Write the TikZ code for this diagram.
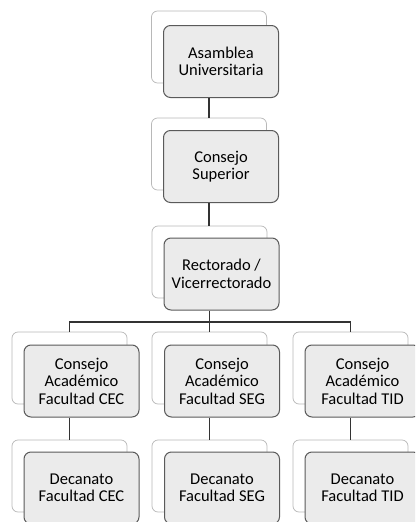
\documentclass[tikz,border=0pt]{standalone}
\usepackage{fontspec}
\setmainfont{Carlito}
\definecolor{backline}{HTML}{B8B8B8}
\definecolor{frontline}{HTML}{5A5A5A}
\definecolor{frontfill}{HTML}{EBEBEB}
\definecolor{conn}{HTML}{333333}
\begin{document}
\begin{tikzpicture}[x=1pt,y=-1pt,
  backbox/.style={draw=backline, line width=0.7pt, fill=white, rounded corners=6pt,
    minimum width=115pt, minimum height=72pt, inner sep=0pt},
  frontbox/.style={draw=frontline, line width=1pt, fill=frontfill, rounded corners=7pt,
    minimum width=115pt, minimum height=72pt, inner sep=0pt, align=center,
    font=\fontsize{16.5}{17.5}\selectfont},
  connector/.style={draw=conn, line width=1.1pt}]
\useasboundingbox (0,0) rectangle (415,522);
\clip (0,0) rectangle (415,522);
% row 1
\node[backbox] (b1) at (209,47) {};
\node[frontbox] (f1) at (221,61.5) {Asamblea\\Universitaria};
% row 2
\node[backbox] (b2) at (209,154) {};
\node[frontbox] (f2) at (221,166.5) {Consejo\\Superior};
% row 3
\node[backbox] (b3) at (209.5,262) {};
\node[frontbox] (f3) at (221.5,274) {Rectorado /\\Vicerrectorado};
% row 4
\node[backbox] (b4) at (69.5,368) {};
\node[frontbox] (f4) at (81.5,381) {Consejo\\Académico\\Facultad CEC};
\node[backbox] (b5) at (209.5,368) {};
\node[frontbox] (f5) at (222,381) {Consejo\\Académico\\Facultad SEG};
\node[backbox] (b6) at (350.5,368) {};
\node[frontbox] (f6) at (362.5,381) {Consejo\\Académico\\Facultad TID};
% row 5
\node[backbox] (b7) at (69.5,476) {};
\node[frontbox] (f7) at (81.5,488) {Decanato\\Facultad CEC};
\node[backbox] (b8) at (209.5,476) {};
\node[frontbox] (f8) at (222,488) {Decanato\\Facultad SEG};
\node[backbox] (b9) at (350.5,476) {};
\node[frontbox] (f9) at (362.5,488) {Decanato\\Facultad TID};
% connectors
\coordinate (bus) at (209.5,322);
\draw[connector] (b1.center |- f1.south) -- (b2.north);
\draw[connector] (b2.center |- f2.south) -- (b2.center |- b3.north);
\draw[connector] (b3.center |- f3.south) -- (bus);
\draw[connector] (b4.north) -- (b4.north |- bus) -- (b6.north |- bus) -- (b6.north);
\draw[connector] (bus) -- (b5.north);
\draw[connector] (b4.center |- f4.south) -- (b7.north);
\draw[connector] (b5.center |- f5.south) -- (b8.north);
\draw[connector] (b6.center |- f6.south) -- (b9.north);
\end{tikzpicture}
\end{document}
